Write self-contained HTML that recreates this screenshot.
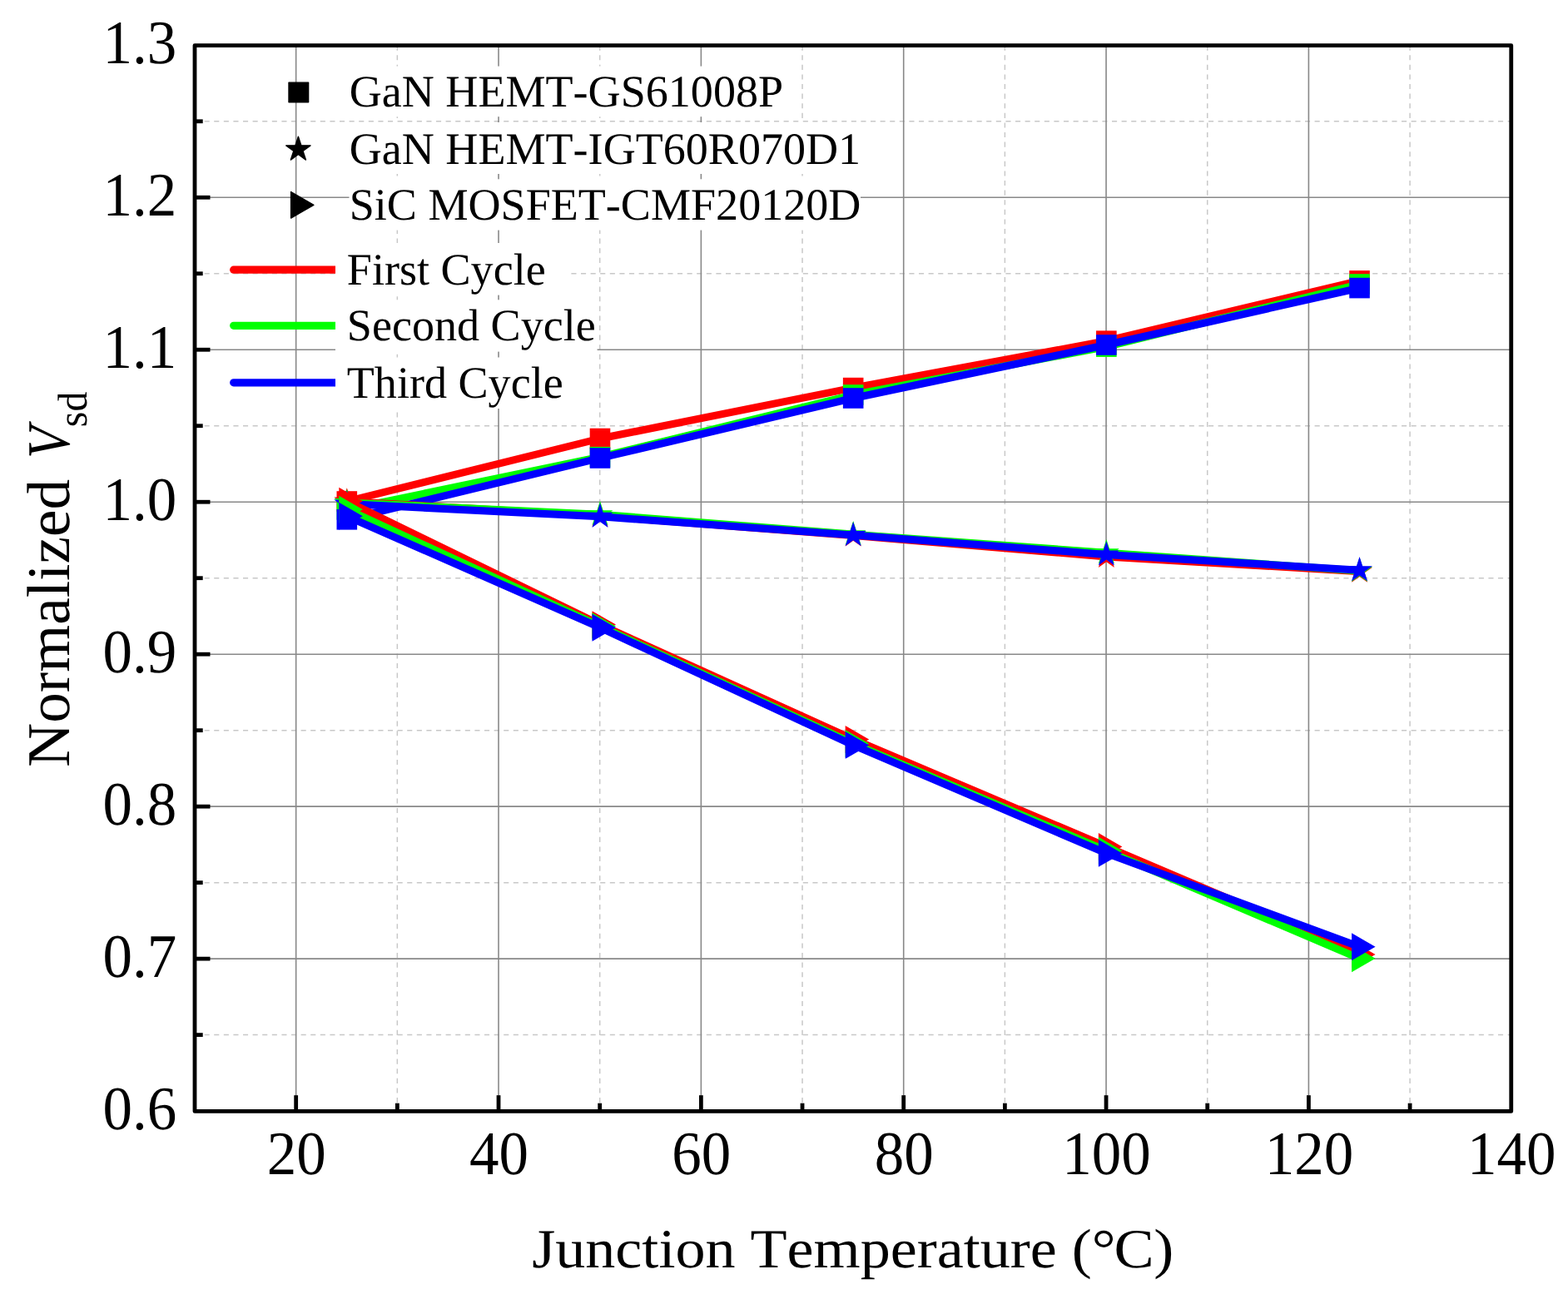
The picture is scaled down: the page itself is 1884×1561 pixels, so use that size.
<!DOCTYPE html>
<html lang="en"><head><meta charset="utf-8"><title>Normalized Vsd vs Junction Temperature</title>
<style>html,body{margin:0;padding:0;background:#fff;}body{width:1884px;height:1561px;overflow:hidden;}svg{display:block;}text{font-family:"Liberation Serif","Times New Roman",serif;fill:#000;font-kerning:none;font-variant-ligatures:none;text-rendering:geometricPrecision;}</style>
</head><body>
<svg width="1884" height="1561" viewBox="0 0 1884 1561">
<rect x="0" y="0" width="1884" height="1561" fill="#ffffff"/>
<g stroke="#c8c8c8" stroke-width="1.5" stroke-dasharray="6.1 5.5" fill="none">
<line x1="477.35" y1="54.60" x2="477.35" y2="1335.40"/>
<line x1="720.69" y1="54.60" x2="720.69" y2="1335.40"/>
<line x1="964.04" y1="54.60" x2="964.04" y2="1335.40"/>
<line x1="1207.38" y1="54.60" x2="1207.38" y2="1335.40"/>
<line x1="1450.73" y1="54.60" x2="1450.73" y2="1335.40"/>
<line x1="1694.08" y1="54.60" x2="1694.08" y2="1335.40"/>
<line x1="234.00" y1="145.79" x2="1815.75" y2="145.79"/>
<line x1="234.00" y1="328.76" x2="1815.75" y2="328.76"/>
<line x1="234.00" y1="511.73" x2="1815.75" y2="511.73"/>
<line x1="234.00" y1="694.70" x2="1815.75" y2="694.70"/>
<line x1="234.00" y1="877.67" x2="1815.75" y2="877.67"/>
<line x1="234.00" y1="1060.64" x2="1815.75" y2="1060.64"/>
<line x1="234.00" y1="1243.61" x2="1815.75" y2="1243.61"/>
</g>
<g stroke="#888888" stroke-width="1.6" fill="none">
<line x1="355.67" y1="54.60" x2="355.67" y2="1335.40"/>
<line x1="599.02" y1="54.60" x2="599.02" y2="1335.40"/>
<line x1="842.37" y1="54.60" x2="842.37" y2="1335.40"/>
<line x1="1085.71" y1="54.60" x2="1085.71" y2="1335.40"/>
<line x1="1329.06" y1="54.60" x2="1329.06" y2="1335.40"/>
<line x1="1572.40" y1="54.60" x2="1572.40" y2="1335.40"/>
<line x1="234.00" y1="237.27" x2="1815.75" y2="237.27"/>
<line x1="234.00" y1="420.24" x2="1815.75" y2="420.24"/>
<line x1="234.00" y1="603.21" x2="1815.75" y2="603.21"/>
<line x1="234.00" y1="786.19" x2="1815.75" y2="786.19"/>
<line x1="234.00" y1="969.16" x2="1815.75" y2="969.16"/>
<line x1="234.00" y1="1152.13" x2="1815.75" y2="1152.13"/>
</g>
<g stroke-width="9.2" stroke-linecap="round" fill="none">
<line x1="280.7" y1="324.20" x2="410" y2="324.20" stroke="#ff0000"/>
<line x1="280.7" y1="391.30" x2="410" y2="391.30" stroke="#00ff00"/>
<line x1="280.7" y1="459.80" x2="410" y2="459.80" stroke="#0000ff"/>
</g>
<g fill="#ffffff">
<rect x="419.50" y="79.60" width="522.50" height="60.60"/>
<rect x="419.50" y="147.00" width="612.00" height="62.00"/>
<rect x="419.50" y="215.30" width="614.50" height="61.30"/>
<rect x="403.00" y="292.00" width="281.00" height="62.60"/>
<rect x="403.00" y="360.30" width="314.60" height="62.30"/>
<rect x="403.00" y="429.50" width="277.00" height="61.50"/>
</g>
<g fill="#ff0000" stroke="none">
<polyline points="416.81,602.50 720.99,527.00 1025.17,466.10 1329.36,409.70 1633.54,337.40" fill="none" stroke="#ff0000" stroke-width="9.0" stroke-linejoin="round" stroke-linecap="butt"/>
<rect x="404.51" y="590.20" width="24.60" height="24.60"/>
<rect x="708.69" y="514.70" width="24.60" height="24.60"/>
<rect x="1012.88" y="453.80" width="24.60" height="24.60"/>
<rect x="1317.06" y="397.40" width="24.60" height="24.60"/>
<rect x="1621.24" y="325.10" width="24.60" height="24.60"/>
</g>
<g fill="#00ff00" stroke="none">
<polyline points="416.81,612.40 720.99,549.20 1025.17,474.50 1329.36,416.60 1633.54,341.50" fill="none" stroke="#00ff00" stroke-width="9.0" stroke-linejoin="round" stroke-linecap="butt"/>
<rect x="404.51" y="600.10" width="24.60" height="24.60"/>
<rect x="708.69" y="536.90" width="24.60" height="24.60"/>
<rect x="1012.88" y="462.20" width="24.60" height="24.60"/>
<rect x="1317.06" y="404.30" width="24.60" height="24.60"/>
<rect x="1621.24" y="329.20" width="24.60" height="24.60"/>
</g>
<g fill="#0000ff" stroke="none">
<polyline points="416.81,624.30 720.99,550.50 1025.17,478.50 1329.36,414.50 1633.54,346.10" fill="none" stroke="#0000ff" stroke-width="9.0" stroke-linejoin="round" stroke-linecap="butt"/>
<rect x="404.51" y="612.00" width="24.60" height="24.60"/>
<rect x="708.69" y="538.20" width="24.60" height="24.60"/>
<rect x="1012.88" y="466.20" width="24.60" height="24.60"/>
<rect x="1317.06" y="402.20" width="24.60" height="24.60"/>
<rect x="1621.24" y="333.80" width="24.60" height="24.60"/>
</g>
<g fill="#ff0000" stroke="none">
<polyline points="416.81,602.50 720.99,620.00 1025.17,643.50 1329.36,669.00 1633.54,686.70" fill="none" stroke="#ff0000" stroke-width="9.0" stroke-linejoin="round" stroke-linecap="butt"/>
<polygon points="416.81,586.30 420.45,597.49 432.22,597.49 422.70,604.41 426.33,615.61 416.81,608.69 407.29,615.61 410.92,604.41 401.40,597.49 413.17,597.49"/>
<polygon points="720.99,603.80 724.63,614.99 736.40,614.99 726.88,621.91 730.51,633.11 720.99,626.19 711.47,633.11 715.11,621.91 705.59,614.99 717.35,614.99"/>
<polygon points="1025.17,627.30 1028.81,638.49 1040.58,638.49 1031.06,645.41 1034.70,656.61 1025.17,649.69 1015.65,656.61 1019.29,645.41 1009.77,638.49 1021.54,638.49"/>
<polygon points="1329.36,652.80 1333.00,663.99 1344.76,663.99 1335.24,670.91 1338.88,682.11 1329.36,675.19 1319.84,682.11 1323.47,670.91 1313.95,663.99 1325.72,663.99"/>
<polygon points="1633.54,670.50 1637.18,681.69 1648.95,681.69 1639.43,688.61 1643.06,699.81 1633.54,692.89 1624.02,699.81 1627.65,688.61 1618.13,681.69 1629.90,681.69"/>
</g>
<g fill="#00ff00" stroke="none">
<polyline points="416.81,604.00 720.99,618.20 1025.17,642.20 1329.36,664.20 1633.54,686.00" fill="none" stroke="#00ff00" stroke-width="9.0" stroke-linejoin="round" stroke-linecap="butt"/>
<polygon points="416.81,587.80 420.45,598.99 432.22,598.99 422.70,605.91 426.33,617.11 416.81,610.19 407.29,617.11 410.92,605.91 401.40,598.99 413.17,598.99"/>
<polygon points="720.99,602.00 724.63,613.19 736.40,613.19 726.88,620.11 730.51,631.31 720.99,624.39 711.47,631.31 715.11,620.11 705.59,613.19 717.35,613.19"/>
<polygon points="1025.17,626.00 1028.81,637.19 1040.58,637.19 1031.06,644.11 1034.70,655.31 1025.17,648.39 1015.65,655.31 1019.29,644.11 1009.77,637.19 1021.54,637.19"/>
<polygon points="1329.36,648.00 1333.00,659.19 1344.76,659.19 1335.24,666.11 1338.88,677.31 1329.36,670.39 1319.84,677.31 1323.47,666.11 1313.95,659.19 1325.72,659.19"/>
<polygon points="1633.54,669.80 1637.18,680.99 1648.95,680.99 1639.43,687.91 1643.06,699.11 1633.54,692.19 1624.02,699.11 1627.65,687.91 1618.13,680.99 1629.90,680.99"/>
</g>
<g fill="#0000ff" stroke="none">
<polyline points="416.81,605.60 720.99,620.80 1025.17,643.10 1329.36,666.40 1633.54,685.20" fill="none" stroke="#0000ff" stroke-width="9.0" stroke-linejoin="round" stroke-linecap="butt"/>
<polygon points="416.81,589.40 420.45,600.59 432.22,600.59 422.70,607.51 426.33,618.71 416.81,611.79 407.29,618.71 410.92,607.51 401.40,600.59 413.17,600.59"/>
<polygon points="720.99,604.60 724.63,615.79 736.40,615.79 726.88,622.71 730.51,633.91 720.99,626.99 711.47,633.91 715.11,622.71 705.59,615.79 717.35,615.79"/>
<polygon points="1025.17,626.90 1028.81,638.09 1040.58,638.09 1031.06,645.01 1034.70,656.21 1025.17,649.29 1015.65,656.21 1019.29,645.01 1009.77,638.09 1021.54,638.09"/>
<polygon points="1329.36,650.20 1333.00,661.39 1344.76,661.39 1335.24,668.31 1338.88,679.51 1329.36,672.59 1319.84,679.51 1323.47,668.31 1313.95,661.39 1325.72,661.39"/>
<polygon points="1633.54,669.00 1637.18,680.19 1648.95,680.19 1639.43,687.11 1643.06,698.31 1633.54,691.39 1624.02,698.31 1627.65,687.11 1618.13,680.19 1629.90,680.19"/>
</g>
<g fill="#ff0000" stroke="none">
<polyline points="416.81,602.20 720.99,750.60 1025.17,888.50 1329.36,1017.40 1633.54,1146.90" fill="none" stroke="#ff0000" stroke-width="9.0" stroke-linejoin="round" stroke-linecap="butt"/>
<polygon points="407.31,585.75 407.31,618.65 435.81,602.20"/>
<polygon points="711.49,734.15 711.49,767.05 739.99,750.60"/>
<polygon points="1015.67,872.05 1015.67,904.95 1044.17,888.50"/>
<polygon points="1319.86,1000.95 1319.86,1033.85 1348.36,1017.40"/>
<polygon points="1624.04,1130.45 1624.04,1163.35 1652.54,1146.90"/>
</g>
<g fill="#00ff00" stroke="none">
<polyline points="416.81,612.20 720.99,752.60 1025.17,893.60 1329.36,1022.30 1633.54,1151.80" fill="none" stroke="#00ff00" stroke-width="9.0" stroke-linejoin="round" stroke-linecap="butt"/>
<polygon points="407.31,595.75 407.31,628.65 435.81,612.20"/>
<polygon points="711.49,736.15 711.49,769.05 739.99,752.60"/>
<polygon points="1015.67,877.15 1015.67,910.05 1044.17,893.60"/>
<polygon points="1319.86,1005.85 1319.86,1038.75 1348.36,1022.30"/>
<polygon points="1624.04,1135.35 1624.04,1168.25 1652.54,1151.80"/>
</g>
<g fill="#0000ff" stroke="none">
<polyline points="416.81,620.30 720.99,754.20 1025.17,895.40 1329.36,1025.40 1633.54,1137.80" fill="none" stroke="#0000ff" stroke-width="9.0" stroke-linejoin="round" stroke-linecap="butt"/>
<polygon points="407.31,603.85 407.31,636.75 435.81,620.30"/>
<polygon points="711.49,737.75 711.49,770.65 739.99,754.20"/>
<polygon points="1015.67,878.95 1015.67,911.85 1044.17,895.40"/>
<polygon points="1319.86,1008.95 1319.86,1041.85 1348.36,1025.40"/>
<polygon points="1624.04,1121.35 1624.04,1154.25 1652.54,1137.80"/>
</g>
<rect x="234.00" y="54.60" width="1581.75" height="1280.80" fill="none" stroke="#000" stroke-width="4.8" stroke-linejoin="round"/>
<g stroke="#000" stroke-width="4.8" fill="none">
<line x1="355.67" y1="1335.40" x2="355.67" y2="1316.20"/>
<line x1="599.02" y1="1335.40" x2="599.02" y2="1316.20"/>
<line x1="842.37" y1="1335.40" x2="842.37" y2="1316.20"/>
<line x1="1085.71" y1="1335.40" x2="1085.71" y2="1316.20"/>
<line x1="1329.06" y1="1335.40" x2="1329.06" y2="1316.20"/>
<line x1="1572.40" y1="1335.40" x2="1572.40" y2="1316.20"/>
<line x1="477.35" y1="1335.40" x2="477.35" y2="1325.70"/>
<line x1="720.69" y1="1335.40" x2="720.69" y2="1325.70"/>
<line x1="964.04" y1="1335.40" x2="964.04" y2="1325.70"/>
<line x1="1207.38" y1="1335.40" x2="1207.38" y2="1325.70"/>
<line x1="1450.73" y1="1335.40" x2="1450.73" y2="1325.70"/>
<line x1="1694.08" y1="1335.40" x2="1694.08" y2="1325.70"/>
<line x1="234.00" y1="237.27" x2="252.50" y2="237.27"/>
<line x1="234.00" y1="420.24" x2="252.50" y2="420.24"/>
<line x1="234.00" y1="603.21" x2="252.50" y2="603.21"/>
<line x1="234.00" y1="786.19" x2="252.50" y2="786.19"/>
<line x1="234.00" y1="969.16" x2="252.50" y2="969.16"/>
<line x1="234.00" y1="1152.13" x2="252.50" y2="1152.13"/>
<line x1="234.00" y1="145.79" x2="243.70" y2="145.79"/>
<line x1="234.00" y1="328.76" x2="243.70" y2="328.76"/>
<line x1="234.00" y1="511.73" x2="243.70" y2="511.73"/>
<line x1="234.00" y1="694.70" x2="243.70" y2="694.70"/>
<line x1="234.00" y1="877.67" x2="243.70" y2="877.67"/>
<line x1="234.00" y1="1060.64" x2="243.70" y2="1060.64"/>
<line x1="234.00" y1="1243.61" x2="243.70" y2="1243.61"/>
</g>
<g font-size="71" text-anchor="end">
<text transform="translate(212.30,76.20) scale(1,1.047)">1.3</text>
<text transform="translate(212.30,259.17) scale(1,1.047)">1.2</text>
<text transform="translate(212.30,442.14) scale(1,1.047)">1.1</text>
<text transform="translate(212.30,625.11) scale(1,1.047)">1.0</text>
<text transform="translate(212.30,808.09) scale(1,1.047)">0.9</text>
<text transform="translate(212.30,991.06) scale(1,1.047)">0.8</text>
<text transform="translate(212.30,1174.03) scale(1,1.047)">0.7</text>
<text transform="translate(212.30,1357.00) scale(1,1.047)">0.6</text>
</g>
<g font-size="71" text-anchor="middle">
<text transform="translate(356.17,1410.80) scale(1,1.047)">20</text>
<text transform="translate(599.52,1410.80) scale(1,1.047)">40</text>
<text transform="translate(842.87,1410.80) scale(1,1.047)">60</text>
<text transform="translate(1086.21,1410.80) scale(1,1.047)">80</text>
<text transform="translate(1329.56,1410.80) scale(1,1.047)">100</text>
<text transform="translate(1572.90,1410.80) scale(1,1.047)">120</text>
<text transform="translate(1816.25,1410.80) scale(1,1.047)">140</text>
</g>
<text transform="translate(639.20,1522.80) scale(1.0826,1)" font-size="66.6">Junction Temperature (°<tspan dx="-1.9">C</tspan><tspan dx="-0.3">)</tspan></text>
<text transform="translate(83,921.8) rotate(-90) scale(1.004,1)" font-size="73">Normalized</text>
<text transform="translate(83,551.1) rotate(-90) scale(0.87,1)" font-size="73" font-style="italic">V</text>
<text transform="translate(103.5,513.2) rotate(-90) scale(0.955,1)" font-size="50">sd</text>
<g fill="#000" stroke="#000" stroke-width="1.4" stroke-linejoin="round">
<rect x="347.00" y="99.10" width="23.60" height="23.60"/>
<polygon points="358.40,164.20 361.86,174.84 373.05,174.84 363.99,181.42 367.45,192.06 358.40,185.48 349.35,192.06 352.81,181.42 343.75,174.84 354.94,174.84"/>
<polygon points="349.60,230.54 349.60,262.06 376.90,246.30"/>
</g>
<g font-size="54.1">
<text x="419.70" y="127.70">GaN HEMT-GS61008P</text>
<text x="419.70" y="196.90">GaN HEMT-IGT60R070D1</text>
<text x="419.70" y="264.00">SiC MOSFET-CMF20120D</text>
<text x="416.80" y="342.00">First Cycle</text>
<text x="416.80" y="409.20">Second Cycle</text>
<text x="416.80" y="477.80">Third Cycle</text>
</g>
</svg>
</body></html>
